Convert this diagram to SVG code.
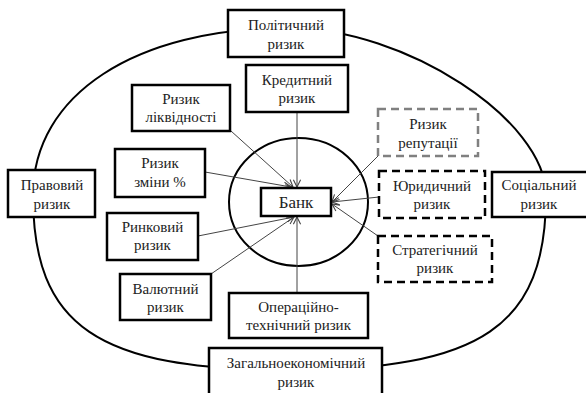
<svg xmlns="http://www.w3.org/2000/svg" width="586" height="393" viewBox="0 0 586 393">
<defs>
<style>
.bg{fill:#fff}
.oval{fill:none;stroke:#000;stroke-width:2}
.box{fill:#fff;stroke:#000;stroke-width:2.5}
.dash{fill:#fff;stroke:#000;stroke-width:2.5;stroke-dasharray:8 5}
.dashg{fill:#fff;stroke:#808080;stroke-width:2.5;stroke-dasharray:8 5}
.con{fill:none;stroke:#444;stroke-width:1;marker-end:url(#arr)}
.t{font-family:'Liberation Serif','Times New Roman',serif;font-size:15px;fill:#222;text-anchor:middle}
.big{font-size:17px}
</style>
<marker id="arr" viewBox="0 0 10 10" refX="9" refY="5" markerWidth="9" markerHeight="9" markerUnits="userSpaceOnUse" orient="auto">
<path d="M1,1 L9,5 L1,9" fill="none" stroke="#444" stroke-width="1.2"/>
</marker>
</defs>
<rect class="bg" x="0" y="0" width="586" height="393"/>
<g id="frame">
<path class="oval" d="M33,195 C33,95 135,28 289,28 C405,28 546,120 546,195 C546,326 482,370 289,370 C97,370 33,326 33,195 Z"/>
<ellipse class="oval" cx="298.5" cy="202" rx="69.5" ry="64"/>
</g>
<g id="connectors">
<line class="con" x1="297" y1="112" x2="297" y2="187"/>
<line class="con" x1="231" y1="131" x2="293" y2="187"/>
<line class="con" x1="205" y1="172" x2="291" y2="187"/>
<line class="con" x1="198" y1="236" x2="294" y2="217"/>
<line class="con" x1="211" y1="274" x2="294" y2="217"/>
<line class="con" x1="297" y1="293" x2="297" y2="217"/>
<line class="con" x1="378" y1="156" x2="332" y2="202"/>
<line class="con" x1="379" y1="197" x2="332" y2="202"/>
<line class="con" x1="378" y1="236" x2="332" y2="204"/>
</g>
<g id="bank">
<rect class="box" x="261" y="188" width="70" height="28"/>
<text class="t big" x="296" y="208">Банк</text>
</g>
<g id="political">
<rect class="box" x="228" y="10" width="116" height="47"/>
<text class="t" x="286" y="30">Політичний</text>
<text class="t" x="286" y="49">ризик</text>
</g>
<g id="credit">
<rect class="box" x="246" y="65" width="102" height="47"/>
<text class="t" x="297" y="85">Кредитний</text>
<text class="t" x="297" y="103">ризик</text>
</g>
<g id="liquidity">
<rect class="box" x="132" y="85" width="98" height="46"/>
<text class="t" x="181" y="104">Ризик</text>
<text class="t" x="181" y="122">ліквідності</text>
</g>
<g id="interest">
<rect class="box" x="115" y="149" width="90" height="48"/>
<text class="t" x="160" y="168">Ризик</text>
<text class="t" x="160" y="187">зміни %</text>
</g>
<g id="legal">
<rect class="box" x="8" y="170" width="87" height="47"/>
<text class="t" x="52" y="190">Правовий</text>
<text class="t" x="52" y="209">ризик</text>
</g>
<g id="market">
<rect class="box" x="107" y="213" width="91" height="47"/>
<text class="t" x="152.5" y="232">Ринковий</text>
<text class="t" x="152.5" y="250">ризик</text>
</g>
<g id="currency">
<rect class="box" x="120" y="274" width="91" height="46"/>
<text class="t" x="165.5" y="294">Валютний</text>
<text class="t" x="165.5" y="312">ризик</text>
</g>
<g id="operational">
<rect class="box" x="229" y="293" width="139" height="45"/>
<text class="t" x="298.5" y="312">Операційно-</text>
<text class="t" x="298.5" y="330">технічний ризик</text>
</g>
<g id="general">
<rect class="box" x="209" y="348" width="173" height="50"/>
<text class="t" x="296" y="368">Загальноекономічний</text>
<text class="t" x="296" y="387">ризик</text>
</g>
<g id="reputation">
<rect class="dashg" x="378" y="109" width="100" height="47"/>
<text class="t" x="428" y="129">Ризик</text>
<text class="t" x="428" y="148">репутації</text>
</g>
<g id="juridical">
<rect class="dash" x="379" y="171" width="106" height="47"/>
<text class="t" x="432" y="191">Юридичний</text>
<text class="t" x="432" y="209">ризик</text>
</g>
<g id="strategic">
<rect class="dash" x="378" y="236" width="114" height="46"/>
<text class="t" x="435" y="255">Стратегічний</text>
<text class="t" x="435" y="273">ризик</text>
</g>
<g id="social">
<rect class="box" x="492" y="172" width="96" height="45"/>
<text class="t" x="539" y="190">Соціальний</text>
<text class="t" x="539" y="209">ризик</text>
</g>
</svg>
